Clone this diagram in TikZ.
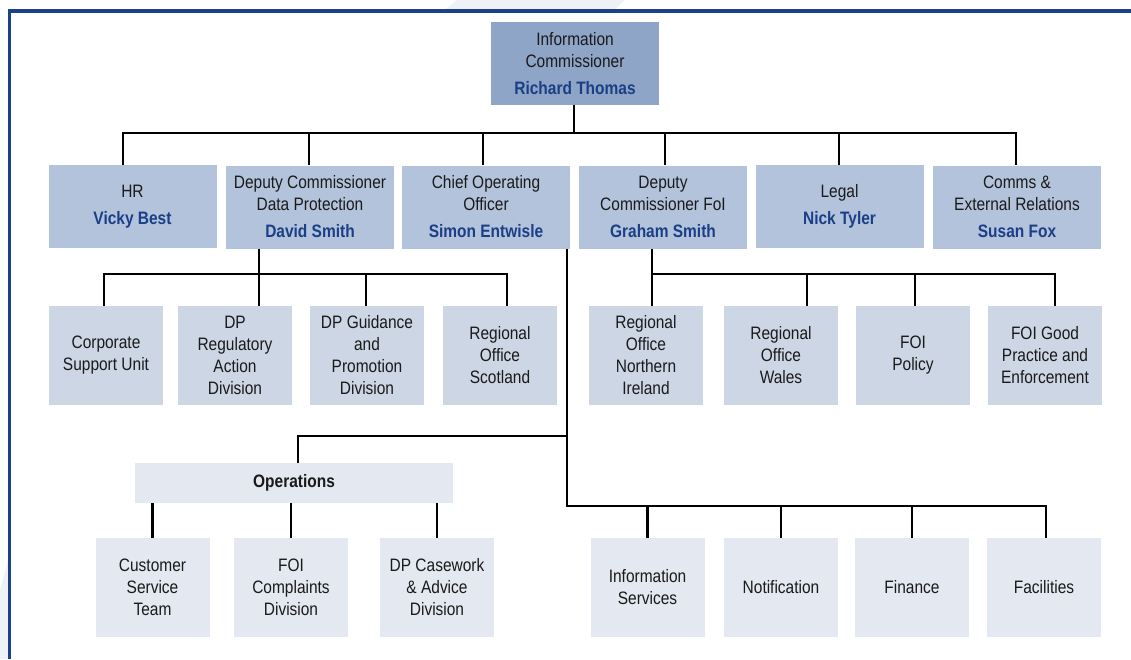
\documentclass[tikz,border=0pt]{standalone}
\usepackage{fontspec}
\setmainfont{Liberation Sans}[FakeStretch=0.86]
\usepackage{tikz}
\usetikzlibrary{calc}
\definecolor{headblue}{HTML}{8FA5C7}
\definecolor{dirblue}{HTML}{B3C3DC}
\definecolor{unitblue}{HTML}{CCD6E5}
\definecolor{teamgrey}{HTML}{E4E8F0}
\definecolor{namecol}{HTML}{1B3F86}
\definecolor{framecol}{HTML}{1B4189}
\definecolor{washcol}{HTML}{EEF1F6}
\definecolor{inkcol}{HTML}{1A1A1A}
\newcommand{\person}[1]{\textcolor{namecol}{\bfseries #1}}
\tikzstyle{head} = [rectangle, fill=headblue, minimum width=168pt, minimum height=83pt, inner sep=0pt, align=center, text=inkcol]
\tikzstyle{director} = [rectangle, fill=dirblue, minimum width=168pt, minimum height=83pt, inner sep=0pt, align=center, text=inkcol]
\tikzstyle{unit} = [rectangle, fill=unitblue, minimum width=114pt, minimum height=99pt, inner sep=0pt, align=center, text=inkcol]
\tikzstyle{team} = [rectangle, fill=teamgrey, minimum width=114pt, minimum height=99pt, inner sep=0pt, align=center, text=inkcol]
\tikzstyle{link} = [line width=2.4pt, black]
\tikzstyle{frame} = [line width=3.5pt, framecol]
\tikzstyle{wash} = [fill=washcol]

\begin{document}
\begin{tikzpicture}[x=1pt, y=-1pt, font=\fontsize{18}{22}\selectfont]
    \useasboundingbox (0,0) rectangle (1131,659);
    % faint marks behind the frame
    \fill [wash] (445,10) -- (457,0) -- (625,0) -- (614,10) -- cycle;
    \fill [wash] (0,659) -- (0,590) -- (8,560) -- (8,659) -- cycle;
    \draw [frame] (9.5,659) -- (9.5,11) -- (1131,11);

    % commissioner
    \node (ic) [head] at (575,63.5) {Information\\Commissioner\\[5pt]\person{Richard Thomas}};

    % directors
    \node (hr) [director] at (132.5,206.5) {HR\\[5pt]\person{Vicky Best}};
    \node (dcdp) [director] at (310,207) {Deputy Commissioner\\Data Protection\\[5pt]\person{David Smith}};
    \node (coo) [director] at (486,207) {Chief Operating\\Officer\\[5pt]\person{Simon Entwisle}};
    \node (dcfoi) [director] at (663,207) {Deputy\\Commissioner FoI\\[5pt]\person{Graham Smith}};
    \node (legal) [director] at (839.5,206.5) {Legal\\[5pt]\person{Nick Tyler}};
    \node (comms) [director] at (1017,207) {Comms \&\\External Relations\\[5pt]\person{Susan Fox}};

    % units
    \node (csu) [unit] at (106,355.5) {Corporate\\Support Unit};
    \node (dpreg) [unit] at (235,355.5) {DP\\Regulatory\\Action\\Division};
    \node (dpguid) [unit] at (367,355.5) {DP Guidance\\and\\Promotion\\Division};
    \node (rosc) [unit] at (500,355.5) {Regional\\Office\\Scotland};
    \node (roni) [unit] at (646,355.5) {Regional\\Office\\Northern\\Ireland};
    \node (rowal) [unit] at (781,355.5) {Regional\\Office\\Wales};
    \node (foipol) [unit] at (913,355.5) {FOI\\Policy};
    \node (foigood) [unit] at (1045,355.5) {FOI Good\\Practice and\\Enforcement};

    % operations and teams
    \node (ops) [team, minimum width=318pt, minimum height=40pt] at (294,483) {\bfseries Operations};
    \node (cst) [team] at (152.5,587.5) {Customer\\Service\\Team};
    \node (foic) [team] at (291,587.5) {FOI\\Complaints\\Division};
    \node (dpcase) [team] at (437,587.5) {DP Casework\\\& Advice\\Division};
    \node (infos) [team] at (647.5,587.5) {Information\\Services};
    \node (notif) [team] at (781,587.5) {Notification};
    \node (fin) [team] at (912,587.5) {Finance};
    \node (facil) [team] at (1044,587.5) {Facilities};

    % top bus
    \coordinate (topbus) at (574,133);
    \coordinate (hrtap) at (123,133);
    \coordinate (dcdptap) at (309,133);
    \coordinate (cootap) at (483,133);
    \coordinate (dcfoitap) at (665,133);
    \coordinate (legaltap) at (839,133);
    \coordinate (commstap) at (1016,133);
    \draw [link] (ic.south -| topbus) -- (topbus);
    \draw [link] (hr.north -| hrtap) -- (hrtap) -- (commstap) -- (comms.north -| commstap);
    \foreach \n in {dcdp,coo,dcfoi,legal}
        \draw [link] (\n tap) -- (\n.north -| \n tap);

    % data protection bus
    \coordinate (dpbus) at (259,274);
    \coordinate (csutap) at (104,274);
    \coordinate (dpguidtap) at (366,274);
    \coordinate (rosctap) at (507,274);
    \draw [link] (dcdp.south -| dpbus) -- (dpreg.north -| dpbus);
    \draw [link] (csu.north -| csutap) -- (csutap) -- (rosctap) -- (rosc.north -| rosctap);
    \draw [link] (dpguidtap) -- (dpguid.north -| dpguidtap);

    % foi bus
    \coordinate (ronitap) at (652,274);
    \coordinate (rowaltap) at (807,274);
    \coordinate (foipoltap) at (915,274);
    \coordinate (foigoodtap) at (1055,274);
    \draw [link] (dcfoi.south -| ronitap) -- (roni.north -| ronitap);
    \draw [link] (ronitap) -- (foigoodtap) -- (foigood.north -| foigoodtap);
    \draw [link] (rowaltap) -- (rowal.north -| rowaltap);
    \draw [link] (foipoltap) -- (foipol.north -| foipoltap);

    % chief operating officer bus
    \coordinate (opsjoin) at (567,436);
    \coordinate (opsbend) at (298,436);
    \coordinate (servbend) at (567,506);
    \coordinate (faciltap) at (1046,506);
    \draw [link] (coo.south -| opsjoin) -- (servbend) -- (faciltap) -- (facil.north -| faciltap);
    \draw [link] (opsjoin) -- (opsbend) -- (ops.north -| opsbend);
    \foreach \n in {infos,notif,fin}
        \draw [link] (\n.north |- servbend) -- (\n.north);
    \foreach \n in {cst,foic,dpcase}
        \draw [link] (ops.south -| \n.north) -- (\n.north);
\end{tikzpicture}
\end{document}
